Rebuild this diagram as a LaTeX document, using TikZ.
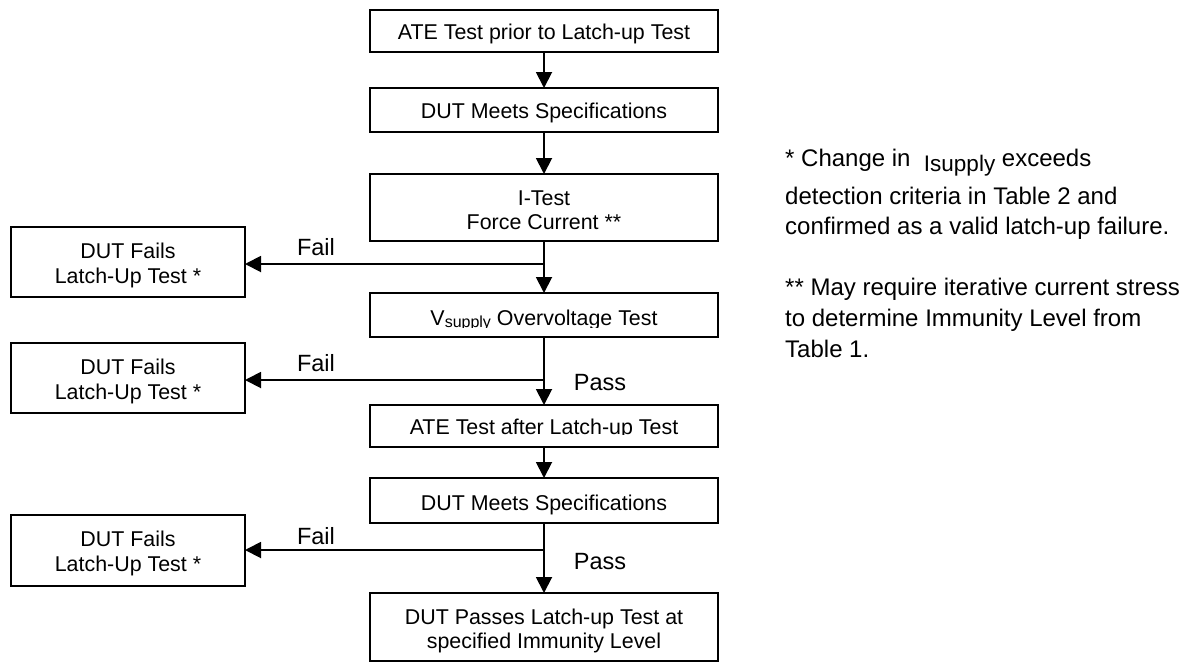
\documentclass[tikz,border=0pt]{standalone}
\usepackage{fontspec}
\setmainfont{Liberation Sans}
\usetikzlibrary{arrows.meta}
\newcommand\bxfont{\fontsize{21.4}{24.3}\selectfont}
\begin{document}
\begin{tikzpicture}[x=1pt,y=-1pt,
  box/.style={draw, line width=1.9pt, inner sep=0pt, outer sep=0pt, minimum width=348pt, font=\bxfont, text height=16pt, text depth=0pt},
  failbox/.style={draw, line width=1.9pt, inner sep=0pt, outer sep=0pt, minimum width=234pt, minimum height=70pt},
  boxtext/.style={font=\bxfont, inner sep=0pt, anchor=base},
  lbl/.style={font=\fontsize{23.5}{28}\selectfont, inner sep=0pt, anchor=base},
  note/.style={font=\fontsize{24}{30}\selectfont, inner sep=0pt, anchor=base west},
  conn/.style={line width=1.9pt},
  arr/.style={conn, -{Triangle[length=16pt,width=16pt]}}
]
\fill[white] (0,0) rectangle (1185,662);
\useasboundingbox (0,0) rectangle (1185,662);

% main column
\node[box, minimum height=42pt] (b1) at (544,31) {ATE Test prior to Latch-up Test};
\node[box, minimum height=44pt] (b2) at (544,110) {DUT Meets Specifications};
\node[box, minimum height=67pt] (b3) at (544,207.5) {};
\node[boxtext] (t3a) at (544,205.5) {I-Test};
\node[boxtext] (t3b) at (544,229.5) {Force Current **};
\node[box, minimum height=44pt] (b4) at (544,315) {};
\begin{scope}
  \clip (370,293) rectangle (718,327.2);
  \node[boxtext] (t4) at (544,325) {V\raisebox{-2.5pt}{\fontsize{16}{18}\selectfont supply} Overvoltage Test};
\end{scope}
\node[box, minimum height=42pt] (b5) at (544,426) {};
\begin{scope}
  \clip (370,405) rectangle (718,434.6);
  \node[boxtext] (t5) at (544,434) {ATE Test after Latch-up Test};
\end{scope}
\node[box, minimum height=45pt, text height=19pt] (b6) at (544,500.5) {DUT Meets Specifications};
\node[box, minimum height=68pt] (b7) at (544,627) {};
\node[boxtext] (t7a) at (544,624) {DUT Passes Latch-up Test at};
\node[boxtext] (t7b) at (544,648) {specified Immunity Level};

% fail boxes
\node[failbox] (f1) at (128,262) {};
\node[boxtext] (tf1a) at (128,258) {DUT Fails};
\node[boxtext] (tf1b) at (128,283) {Latch-Up Test *};
\node[failbox] (f2) at (128,378) {};
\node[boxtext] (tf2a) at (128,374) {DUT Fails};
\node[boxtext] (tf2b) at (128,399) {Latch-Up Test *};
\node[failbox, minimum height=71pt] (f3) at (128,550.5) {};
\node[boxtext] (tf3a) at (128,546.7) {DUT Fails};
\node[boxtext] (tf3b) at (128,571.7) {Latch-Up Test *};

% connectors
\coordinate (j1) at (544,264);
\coordinate (j2) at (544,380);
\coordinate (j3) at (544,550);
\draw[arr] (b1.south) -- (b2.north);
\draw[arr] (b2.south) -- (b3.north);
\draw[arr] (b3.south) -- (b4.north);
\draw[arr] (b4.south) -- (b5.north);
\draw[arr] (b5.south) -- (b6.north);
\draw[arr] (b6.south) -- (b7.north);
\draw[arr] (j1) -- (f1.east |- j1);
\draw[arr] (j2) -- (f2.east |- j2);
\draw[arr] (j3) -- (f3.east |- j3);

% labels
\node[lbl] (fl1) at (316,255) {Fail};
\node[lbl] (fl2) at (316,371) {Fail};
\node[lbl] (fl3) at (316,544) {Fail};
\node[lbl] (pl1) at (600,390) {Pass};
\node[lbl] (pl2) at (600,569) {Pass};

% notes
\node[note] (n1) at (785,166) {* Change in\ \ \raisebox{-5pt}{\fontsize{22.5}{26}\selectfont Isupply} exceeds};
\node[note] (n2) at (785,204) {detection criteria in Table 2 and};
\node[note] (n3) at (785,234) {confirmed as a valid latch-up failure.};
\node[note] (n4) at (785,295) {** May require iterative current stress};
\node[note] (n5) at (785,326) {to determine Immunity Level from};
\node[note] (n6) at (785,357) {Table 1.};
\end{tikzpicture}
\end{document}
